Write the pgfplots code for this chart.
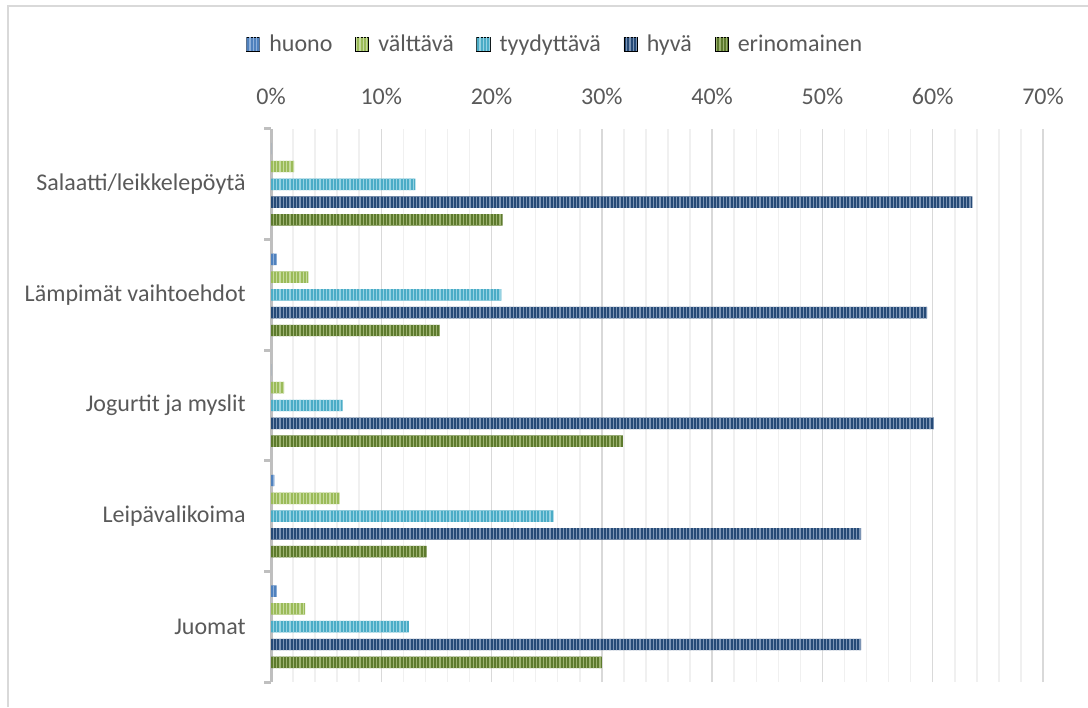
\documentclass[border=0pt]{standalone}
\usepackage{fontspec}
\setmainfont{Carlito}
\usepackage{pgfplots}
\usepackage{pgfplotstable}
\pgfplotsset{compat=1.18}
\usetikzlibrary{patterns.meta}

\definecolor{txt}{HTML}{595959}
\definecolor{cHuono}{HTML}{4F81BD}
\definecolor{cHuonoL}{HTML}{8FB0DA}
\definecolor{cValt}{HTML}{9BBB59}
\definecolor{cValtL}{HTML}{C6DA9E}
\definecolor{cTyyd}{HTML}{4BACC6}
\definecolor{cTyydL}{HTML}{96D2E2}
\definecolor{cHyva}{HTML}{264A76}
\definecolor{cHyvaL}{HTML}{7C94B4}
\definecolor{cErin}{HTML}{5D7A2D}
\definecolor{cErinL}{HTML}{9CB270}
\definecolor{gridmaj}{HTML}{D9D9D9}
\definecolor{gridmin}{HTML}{F0F0F0}
\definecolor{axisc}{HTML}{BFBFBF}

% striped bar fill: base colour with thin light vertical lines
\tikzset{stripebar/.style 2 args={fill=#1, draw=none,
  postaction={pattern={Lines[angle=90,distance=2.5pt,line width=0.9pt]}, pattern color=#2}}}

% share of answers (%) per category: 0 Juomat ... 4 Salaatti/leikkelepöytä
\pgfplotstableread{
y huono valt tyyd hyva erin
0 0.5 3.1 12.5 53.5 30.0
1 0.3 6.2 25.6 53.5 14.1
2 0.0 1.2 6.5 60.1 31.9
3 0.5 3.4 20.9 59.5 15.3
4 0.0 2.1 13.1 63.6 21.0
}\ratings

\begin{document}
\begin{tikzpicture}
\useasboundingbox (0pt,0pt) rectangle (816pt,530.25pt);
\draw[gridmaj, line width=1.2pt] (6pt,0pt) -- (6pt,525.9pt) -- (816pt,525.9pt);
\begin{axis}[
  at={(203.25pt,18.75pt)}, anchor=south west,
  scale only axis, width=579pt, height=414.75pt,
  xbar, bar width=8.6pt,
  xmin=0, xmax=70, ymin=-0.5, ymax=4.5,
  axis x line*=top, axis y line*=left,
  x axis line style={draw=none},
  y axis line style={axisc, line width=2.25pt, -},
  xtick={0,10,...,70},
  xticklabels={0\%,10\%,20\%,30\%,40\%,50\%,60\%,70\%},
  minor x tick num=4,
  xmajorgrids, xminorgrids,
  major grid style={gridmaj, line width=1.1pt},
  minor grid style={gridmin, line width=1.1pt},
  major x tick style={draw=none}, minor x tick style={draw=none},
  ytick={0,1,2,3,4},
  yticklabels={Juomat, Leipävalikoima, Jogurtit ja myslit, Lämpimät vaihtoehdot, Salaatti/leikkelepöytä},
  minor ytick={-0.5,0.5,1.5,2.5,3.5,4.5},
  major tick length=0pt, minor tick length=5.25pt, tick align=outside,
  major y tick style={draw=none},
  minor y tick style={axisc, line width=2.25pt},
  tick label style={font=\fontsize{18pt}{21pt}\selectfont, text=txt},
  xticklabel style={anchor=base, inner sep=0pt, yshift=18pt},
  yticklabel style={anchor=east, inner sep=0pt, xshift=-18.75pt},
  legend style={at={(0.3685,1.1537)}, anchor=center, draw=none, fill=none,
    font=\fontsize{18pt}{21pt}\selectfont, text=txt,
    /tikz/every odd column/.append style={column sep=5pt},
    /tikz/every even column/.append style={column sep=15pt}},
  legend columns=-1,
  legend image code/.code={\draw[#1] (0pt,-5.2pt) rectangle (10pt,5.2pt);},
]
\addplot[stripebar={cHuono}{cHuonoL}, bar shift=26.7pt] table[x=huono, y=y] {\ratings};
\addplot[stripebar={cValt}{cValtL}, bar shift=13.35pt] table[x=valt, y=y] {\ratings};
\addplot[stripebar={cTyyd}{cTyydL}, bar shift=0pt] table[x=tyyd, y=y] {\ratings};
\addplot[stripebar={cHyva}{cHyvaL}, bar shift=-13.35pt] table[x=hyva, y=y] {\ratings};
\addplot[stripebar={cErin}{cErinL}, bar shift=-26.7pt] table[x=erin, y=y] {\ratings};
\legend{huono, välttävä, tyydyttävä, hyvä, erinomainen}
\end{axis}
\end{tikzpicture}
\end{document}
